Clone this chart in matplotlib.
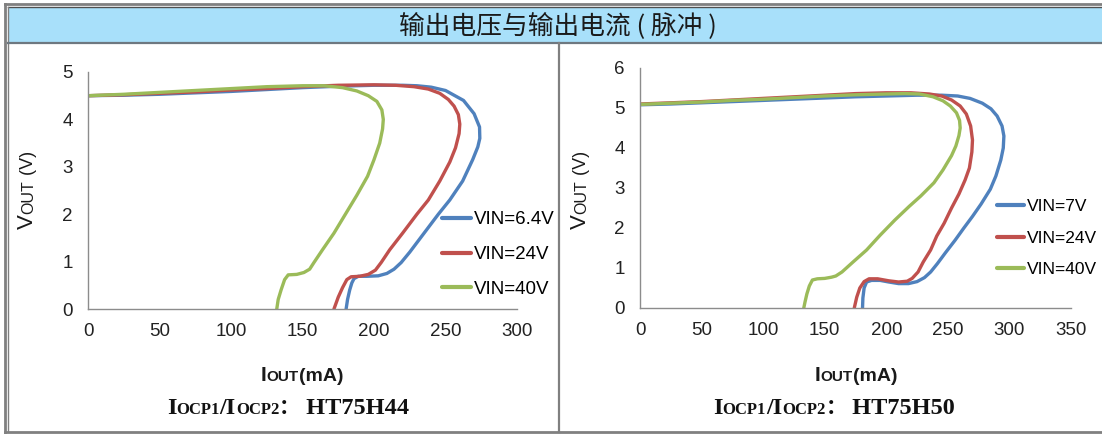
import matplotlib
matplotlib.use('Agg')
import matplotlib.pyplot as plt
from matplotlib.transforms import IdentityTransform
from matplotlib.patches import Rectangle
from matplotlib.lines import Line2D

W, H = 1102, 434

# ---- data: (Iout mA, Vout V) along each curve ----
# HT75H44
i_44_vin64 = [0, 25, 50, 75, 100, 125, 150, 175, 200, 220, 230, 240, 250, 262.6, 270, 273.8, 274, 272.6,
              269, 262, 253, 245, 235, 225, 219, 214, 209, 203, 195, 189, 186, 184.5, 183, 181.5, 180.5]
v_44_vin64 = [4.50, 4.51, 4.53, 4.56, 4.59, 4.63, 4.67, 4.70, 4.72, 4.72, 4.71, 4.68, 4.61, 4.40, 4.12, 3.84,
              3.60, 3.42, 3.15, 2.70, 2.30, 2.00, 1.60, 1.20, 0.98, 0.84, 0.75, 0.70, 0.69, 0.69, 0.64,
              0.55, 0.40, 0.20, 0.00]
i_44_vin24 = [0, 25, 50, 75, 100, 125, 150, 175, 200, 215, 228, 238, 246, 252, 256, 259, 260, 259.5, 257,
              253, 246, 238, 230, 220, 211, 205, 201, 196, 190, 184, 181, 178, 175, 172]
v_44_vin24 = [4.50, 4.52, 4.55, 4.58, 4.62, 4.65, 4.69, 4.72, 4.73, 4.72, 4.69, 4.64, 4.55, 4.42, 4.28,
              4.10, 3.90, 3.70, 3.40, 3.10, 2.70, 2.30, 2.00, 1.60, 1.25, 0.98, 0.82, 0.73, 0.69, 0.68,
              0.62, 0.45, 0.25, 0.00]
i_44_vin40 = [0, 25, 50, 75, 100, 125, 150, 165, 178, 188, 196, 202, 205.5, 206.5, 206, 204, 200, 195.5,
              188, 180, 172, 164, 158, 155, 151, 146, 140, 137.5, 135, 133, 132]
v_44_vin40 = [4.50, 4.53, 4.57, 4.61, 4.65, 4.69, 4.71, 4.71, 4.67, 4.60, 4.50, 4.38, 4.20, 4.00, 3.80,
              3.50, 3.15, 2.80, 2.40, 2.00, 1.60, 1.25, 0.98, 0.84, 0.77, 0.73, 0.72, 0.62, 0.40, 0.20, 0.00]

# HT75H50
i_50_vin7 = [0, 25, 50, 75, 100, 125, 150, 175, 200, 225, 245, 258, 268, 278, 285, 290, 294, 295.5, 295,
             293, 289, 284.5, 277, 270, 263, 256, 248, 241.5, 236, 231, 225, 218, 210, 202, 195, 188,
             184, 182, 181, 180.7]
v_50_vin7 = [5.08, 5.10, 5.13, 5.16, 5.19, 5.22, 5.25, 5.28, 5.30, 5.32, 5.32, 5.30, 5.24, 5.12, 4.98,
             4.80, 4.55, 4.30, 4.00, 3.70, 3.30, 2.97, 2.60, 2.29, 2.00, 1.70, 1.38, 1.11, 0.90, 0.76,
             0.66, 0.61, 0.61, 0.65, 0.69, 0.69, 0.65, 0.50, 0.25, 0.00]
i_50_vin24 = [0, 25, 50, 75, 100, 125, 150, 175, 200, 220, 235, 245, 253, 260, 265, 268.5, 270, 269.5,
              267.5, 264, 259, 253, 247, 241, 236, 230, 225.8, 221, 217, 210, 202, 193, 186, 182,
              178.5, 176, 174]
v_50_vin24 = [5.10, 5.13, 5.16, 5.20, 5.24, 5.28, 5.32, 5.36, 5.38, 5.38, 5.35, 5.30, 5.20, 5.05, 4.85,
              4.55, 4.20, 3.90, 3.50, 3.20, 2.85, 2.50, 2.12, 1.80, 1.45, 1.15, 0.90, 0.74, 0.67, 0.65,
              0.68, 0.73, 0.73, 0.66, 0.50, 0.27, 0.00]
i_50_vin40 = [0, 25, 50, 75, 100, 125, 150, 175, 200, 215, 227, 238, 246, 252, 257, 259.5, 260, 259,
              256.5, 253, 246, 238.7, 228, 218.6, 207, 195, 184, 173, 164, 159, 155.5, 150, 144, 140,
              137.5, 135.5, 134, 133]
v_50_vin40 = [5.09, 5.12, 5.15, 5.19, 5.22, 5.26, 5.30, 5.33, 5.35, 5.36, 5.35, 5.28, 5.18, 5.05, 4.88,
              4.69, 4.50, 4.31, 4.05, 3.81, 3.45, 3.13, 2.80, 2.54, 2.20, 1.82, 1.45, 1.15, 0.90, 0.80,
              0.77, 0.74, 0.73, 0.70, 0.55, 0.35, 0.15, 0.00]

labels_44 = ['VIN=6.4V', 'VIN=24V', 'VIN=40V']
labels_50 = ['VIN=7V', 'VIN=24V', 'VIN=40V']
xticks_44 = [0, 50, 100, 150, 200, 250, 300]
yticks_44 = [0, 1, 2, 3, 4, 5]
xticks_50 = [0, 50, 100, 150, 200, 250, 300, 350]
yticks_50 = [0, 1, 2, 3, 4, 5, 6]
title = '输出电压与输出电流 ( 脉冲 )'
parts_44 = 'HT75H44'
parts_50 = 'HT75H50'

colors = ['#4F81BD', '#C0504D', '#9BBB59']
NARROW = ['Liberation Sans', 'DejaVu Sans']
SERIF = ['Liberation Serif', 'DejaVu Serif']
CJK = ['Noto Sans CJK SC', 'DejaVu Sans']


def fx(px):
    return px / W


def fy(py):
    return 1 - py / H


def rich_text(fig, x, y, parts, rotation=0):
    # parts placed one after another along the baseline, centred on x (or y when rotated)
    renderer = fig.canvas.get_renderer()
    texts = []
    for s, kw in parts:
        t = fig.text(0, 0, s, transform=IdentityTransform(), rotation=rotation,
                     rotation_mode='anchor', ha='left', va='baseline', **kw)
        texts.append(t)
    sizes = []
    for t in texts:
        bb = t.get_window_extent(renderer)
        sizes.append(bb.height if rotation else bb.width)
    pos = (y if rotation else x) - sum(sizes) / 2
    for t, sz in zip(texts, sizes):
        if rotation:
            t.set_position((x, pos))
        else:
            t.set_position((pos, y))
        pos += sz


def make_panel(fig, box, series, labels, xlim, ylim, xticks, yticks, leg_xy, leg_space, leg_size):
    left, bottom, right, top = box
    ax = fig.add_axes([fx(left), fy(bottom), fx(right) - fx(left), (bottom - top) / H])
    for (xs, ys), lab, c in zip(series, labels, colors):
        ax.plot(xs, ys, color=c, lw=2.4, label=lab, solid_capstyle='round', solid_joinstyle='round')
    ax.set_xlim(*xlim)
    ax.set_ylim(*ylim)
    ax.set_xticks(xticks)
    ax.set_yticks(yticks)
    for s in ['top', 'right']:
        ax.spines[s].set_visible(False)
    for s in ['left', 'bottom']:
        ax.spines[s].set_color('#8C8C8C')
        ax.spines[s].set_linewidth(1.0)
    ax.tick_params(length=0, labelsize=13.5, labelcolor='#222222')
    ax.tick_params(axis='y', pad=11)
    ax.tick_params(axis='x', pad=10)
    for lab in ax.get_xticklabels() + ax.get_yticklabels():
        lab.set_family(NARROW)
    ax.legend(loc='upper left', bbox_to_anchor=(fx(leg_xy[0]), fy(leg_xy[1])),
              bbox_transform=fig.transFigure, frameon=False, borderpad=0, borderaxespad=0,
              handlelength=1.55, handletextpad=0.15, labelspacing=leg_space,
              prop={'family': NARROW, 'size': leg_size})
    for h in ax.get_legend().get_lines():
        h.set_linewidth(3)
    return ax


fig = plt.figure(figsize=(W / 100, H / 100), dpi=100)

# frame and title band
fig.patches.append(Rectangle((fx(8), fy(43)), fx(1102) - fx(8), (43 - 7) / H, transform=fig.transFigure,
                             facecolor='#A8E0FA', edgecolor='none', zorder=0))
frame = dict(transform=fig.transFigure, color='#808080')
fig.lines += [
    Line2D([fx(5), fx(1102)], [fy(4), fy(4)], lw=2.0, **frame),
    Line2D([fx(8), fx(1102)], [fy(6.5), fy(6.5)], lw=1.0, color='#505050', transform=fig.transFigure),
    Line2D([fx(5), fx(5)], [fy(4), fy(433)], lw=2.0, **frame),
    Line2D([fx(8), fx(8)], [fy(6.5), fy(431)], lw=1.0, **frame),
    Line2D([fx(5), fx(1102)], [fy(432), fy(432)], lw=2.0, **frame),
    Line2D([fx(8), fx(1102)], [fy(43), fy(43)], lw=1.6, color='#6E7880', transform=fig.transFigure),
    Line2D([fx(559), fx(559)], [fy(43), fy(432)], lw=1.6, **frame),
]
fig.text(fx(558), fy(26), title, ha='center', va='center', fontsize=18.5, family=CJK, color='#1A1A1A')

make_panel(fig, (88, 309, 517, 72),
           [(i_44_vin64, v_44_vin64), (i_44_vin24, v_44_vin24), (i_44_vin40, v_44_vin40)],
           labels_44, (0, 300), (0, 5), xticks_44, yticks_44, (442, 211), 0.95, 13.5)
make_panel(fig, (640, 308, 1071, 68),
           [(i_50_vin7, v_50_vin7), (i_50_vin24, v_50_vin24), (i_50_vin40, v_50_vin40)],
           labels_50, (0, 350), (0, 6), xticks_50, yticks_50, (997, 199), 0.95, 12.5)

fig.canvas.draw()

lab_kw = dict(family=NARROW, color='#1A1A1A')
for yx in (33, 586):
    rich_text(fig, yx, H - 190, [('V', dict(fontsize=16, **lab_kw)),
                                 ('OUT', dict(fontsize=11.5, **lab_kw)),
                                 (' (V)', dict(fontsize=13, **lab_kw))], rotation=90)
for xx in (302, 856):
    rich_text(fig, xx, H - 381, [('I', dict(fontsize=15, fontweight='bold', **lab_kw)),
                                 ('OUT', dict(fontsize=11, fontweight='bold', **lab_kw)),
                                 ('(mA)', dict(fontsize=14, fontweight='bold', **lab_kw))])

big = dict(family=SERIF, fontweight='bold', fontsize=17.5, color='#111111')
small = dict(family=SERIF, fontweight='bold', fontsize=12, color='#111111')
colon = dict(family=CJK, fontweight='bold', fontsize=15, color='#111111')
for xx, part in ((288, parts_44), (834, parts_50)):
    rich_text(fig, xx, H - 414, [('I', big), ('OCP1', small), ('/I', big), ('OCP2', small),
                                 ('：', colon), (' ' + part, big)])

fig.savefig('out.png', dpi=100)
